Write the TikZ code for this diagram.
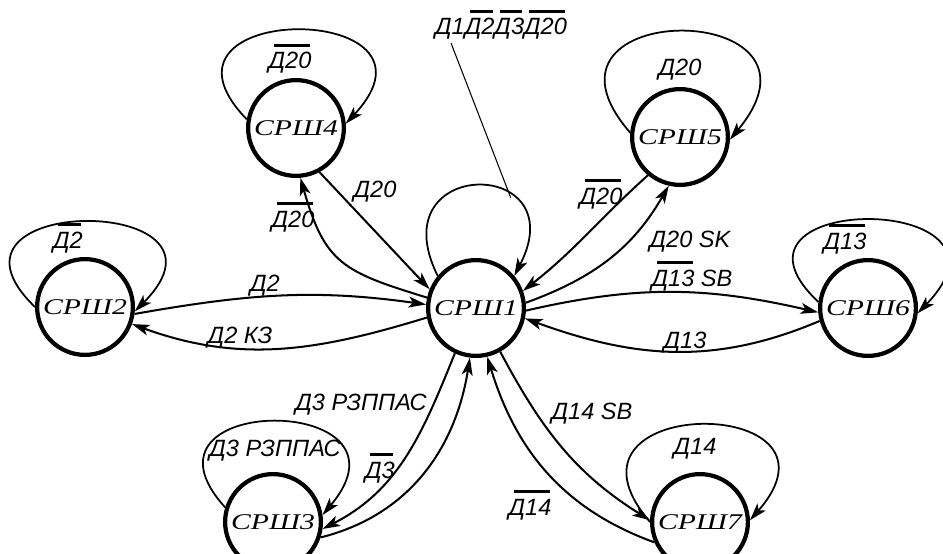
\documentclass[tikz,border=0pt]{standalone}
\usepackage{fontspec}
\setmainfont{Liberation Sans}
\newfontfamily\statefont{Liberation Serif}[FakeStretch=1.32]
\usetikzlibrary{arrows.meta}
% negated condition: bar over the signal name
\newcommand\ov[1]{\setbox0=\hbox{#1}\leavevmode\vbox{\offinterlineskip\hbox{\kern3pt\vrule width\dimexpr\wd0-4pt\relax height1.7pt depth0pt}\kern3.4pt\copy0}}
\begin{document}
\begin{tikzpicture}[x=0.02cm,y=-0.02cm,
  stnode/.style={circle,draw,line width=2.4pt,minimum size=1.916cm,inner sep=0pt,
    font=\statefont\itshape\fontsize{12.8}{14}\selectfont},
  lbl/.style={inner sep=0pt,anchor=base,font=\itshape\fontsize{13.4}{15}\selectfont},
  trans/.style={line width=1.15pt,-{Stealth[length=10pt,width=6.2pt,inset=2.5pt]}},
  selfarc/.style={line width=1pt,-{Stealth[length=10pt,width=6.2pt,inset=2.5pt]}}]
\useasboundingbox (0,0) rectangle (943,554);

% states
\node[stnode] (N1) at (476,308) {СРШ1};
\node[stnode] (N2) at (85,307) {СРШ2};
\node[stnode] (N3) at (273,522) {СРШ3};
\node[stnode] (N4) at (296,128) {СРШ4};
\node[stnode] (N5) at (680,137) {СРШ5};
\node[stnode] (N6) at (868,308) {СРШ6};
\node[stnode] (N7) at (700,522) {СРШ7};

% self loops
\draw[selfarc] (N1.140) .. controls (378,156) and (576,156) .. (N1.40) coordinate[pos=0.68] (lp);
\draw[selfarc] (N2.180) .. controls (-83,193) and (253,193) .. (N2.-5);
\draw[selfarc] (N4.170) .. controls (131,0) and (461,0) .. (N4.5);
\draw[selfarc] (N5.175) .. controls (512,-3) and (848,-3) .. (N5.-3);
\draw[selfarc] (N6.173) .. controls (700,191) and (1036,191) .. (N6.-6);
\draw[selfarc] (N3.163) .. controls (120,392) and (426,392) .. (N3.8);
\draw[selfarc] (N7.180) .. controls (539,393) and (861,393) .. (N7.2);

% transitions
\draw[trans] (N4.-62) -- (N1.158);
\draw[trans] (N1.168) to[out=163,in=-74,looseness=1.3] (N4.-85);
\draw[trans] (N2.-8) to[out=10,in=172] (N1.176);
\draw[trans] (N1.191) to[out=197,in=-20] (N2.-20);
\draw[trans] (N5.-130) to[out=222,in=38] (N1.20);
\draw[trans] (N1.6) to[out=20,in=240] (N5.-103);
\draw[trans] (N1.-3) to[out=13,in=167] (N6.185);
\draw[trans] (N6.195) to[out=203,in=-20] (N1.-12);
\draw[trans] (N1.-115) to[out=-112,in=27] (N3.-8);
\draw[trans] (N3.-18) to[out=14,in=-99] (N1.-97);
\draw[trans] (N1.-61) to[out=-62,in=148] (N7.178);
\draw[trans] (N7.204) to[out=160,in=-73] (N1.-77);

% leader from the loop condition
\coordinate (ldr) at (451,43);
\draw[line width=0.6pt] (ldr) -- (lp);

% conditions
\node[lbl] (lt) at (501,35) {Д1\ov{Д2}\ov{Д3}\ov{Д20}};
\node[lbl] (l4) at (290,69) {\ov{Д20}};
\node[lbl] (l41a) at (375,197) {Д20};
\node[lbl] (l41b) at (293,227) {\ov{Д20}};
\node[lbl] (l2) at (68,248) {\ov{Д2}};
\node[lbl] (l21a) at (265,291) {Д2};
\node[lbl] (l21b) at (240,343) {Д2 КЗ};
\node[lbl] (l51a) at (601,204) {\ov{Д20}};
\node[lbl] (l5) at (680,76) {Д20};
\node[lbl] (l51b) at (690,247) {Д20 SK};
\node[lbl] (l61a) at (692,286) {\ov{Д13} SB};
\node[lbl] (l61b) at (685,348) {Д13};
\node[lbl] (l6) at (845,249) {\ov{Д13}};
\node[lbl] (l31a) at (361,410) {Д3 РЗППАС};
\node[lbl] (l3) at (275,456) {Д3 РЗППАС};
\node[lbl] (l31b) at (380,478) {\ov{Д3}};
\node[lbl] (l71a) at (592,419) {Д14 SB};
\node[lbl] (l7) at (695,454) {Д14};
\node[lbl] (l71b) at (530,515) {\ov{Д14}};
\end{tikzpicture}
\end{document}
